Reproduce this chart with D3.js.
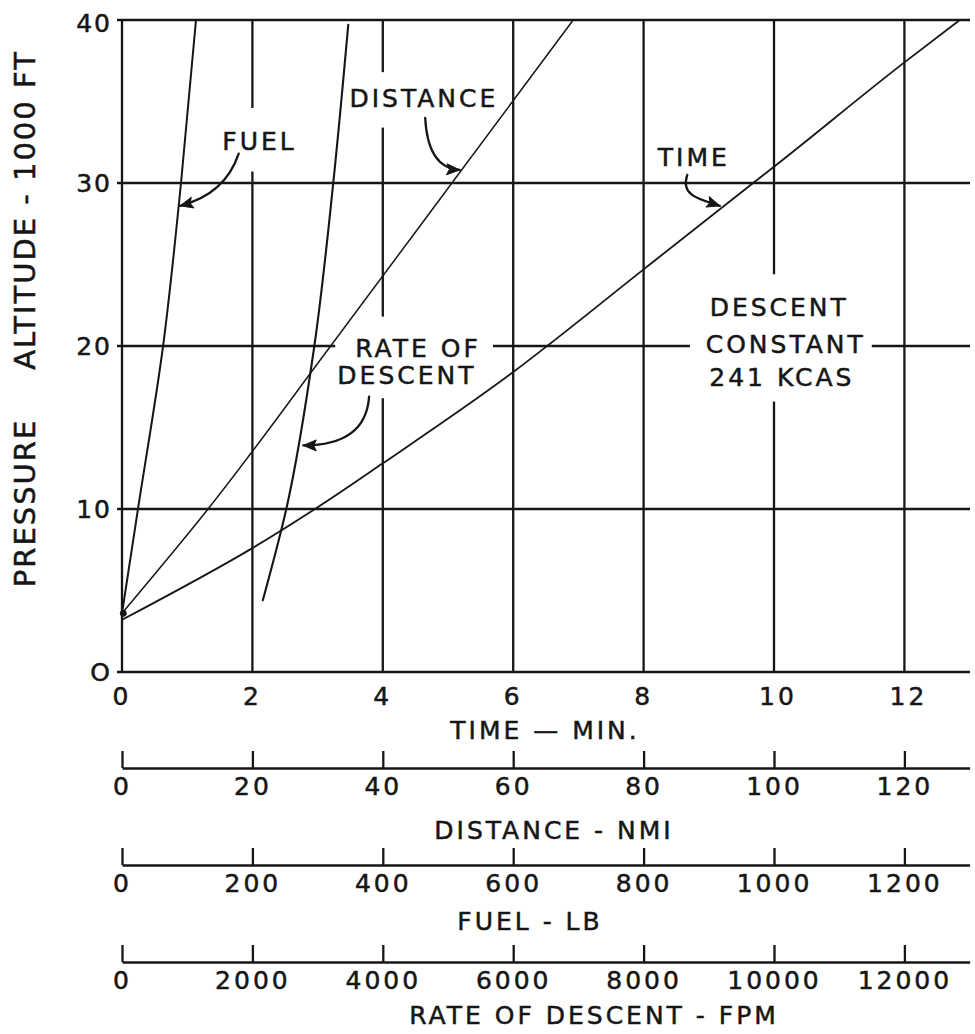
<!DOCTYPE html>
<html>
<head>
<meta charset="utf-8">
<script src="https://cdn.jsdelivr.net/npm/d3@7"></script>
<style>
  html, body { margin: 0; padding: 0; background: #fff; }
  svg { display: block; }
  text { font-family: "DejaVu Sans", sans-serif; fill: #161616; stroke: #161616; stroke-width: 0.5px; }
</style>
</head>
<body>
<svg id="chart" width="975" height="1034"></svg>
<script>
// ---- Descent performance data (altitude in 1000 ft vs. scale reading) ----
const timeAlt = [3.2, 7.6, 10, 12.8, 18.4, 20, 24.7, 30, 31.0, 37.4, 40];
const timeMin = [0, 2, 2.96, 4, 6, 6.52, 8, 9.68, 10, 12, 12.85];

const distAlt = [3.6, 10, 20, 30, 40];
const distNmi = [0, 13.2, 32, 50.6, 69.2];

const fuelAlt = [3.6, 10, 20, 30, 40];
const fuelLb  = [0, 24.5, 63, 90.5, 113.5];

const rateAlt = [4.4, 10, 20, 30, 39.7];
const rateFpm = [2160, 2520, 2950, 3240, 3470];

// ---- Axis ticks ----
const altTicks  = [0, 10, 20, 30, 40];
const timeTicks = [0, 2, 4, 6, 8, 10, 12];
const distTicks = [0, 20, 40, 60, 80, 100, 120];
const fuelTicks = [0, 200, 400, 600, 800, 1000, 1200];
const rateTicks = [0, 2000, 4000, 6000, 8000, 10000, 12000];

// Gaps left in grid lines where the lettering sits
const vGridGaps = [
  { t: 2,  from: 30.7, to: 34.6 },
  { t: 4,  from: 33.4, to: 36.8 },
  { t: 4,  from: 16.8, to: 21.8 },
  { t: 10, from: 16.6, to: 24.4 }
];
const hGridGaps = [
  { alt: 20, from: 3.27, to: 5.69 },
  { alt: 20, from: 8.71, to: 11.5 }
];

// Curve callouts: one [time units, altitude] anchor per text line
const callouts = [
  { lines: ["FUEL"],                            at: [[2.11, 32.6]] },
  { lines: ["DISTANCE"],                        at: [[4.63, 35.2]] },
  { lines: ["TIME"],                            at: [[8.77, 31.6]] },
  { lines: ["RATE OF", "DESCENT"],              at: [[4.54, 19.9], [4.37, 18.2]] },
  { lines: ["DESCENT", "CONSTANT", "241 KCAS"], at: [[10.08, 22.4], [10.18, 20.1], [10.12, 18.1]] }
];
const arrows = [
  // start, control(s), tip
  { pts: [[1.79, 31.8], [1.58, 29.3], [0.89, 28.6]] },
  { pts: [[4.65, 34.0], [4.69, 30.9], [5.18, 30.8]] },
  { pts: [[8.67, 30.5], [8.56, 29.2], [8.86, 29.0], [9.17, 28.6]] },
  { pts: [[3.79, 16.9], [3.74, 13.9], [2.78, 13.9]] }
];

// ---- Layout ----
const svg = d3.select("#chart");
const x = d3.scaleLinear().domain([0, 13]).range([122, 969.6]);
const y = d3.scaleLinear().domain([0, 40]).range([672, 20]);
const ink = "#161616";
const gridW = 2.3;

const grid = svg.append("g").attr("stroke", ink).attr("stroke-width", gridW).attr("fill", "none");

// Horizontal grid lines, split around any gaps
altTicks.forEach(a => {
  const gaps = hGridGaps.filter(g => g.alt === a).sort((p, q) => p.from - q.from);
  let start = x.invert(x(0) - 5);
  const segs = [];
  gaps.forEach(g => { segs.push([start, g.from]); start = g.to; });
  segs.push([start, x.invert(970)]);
  segs.forEach(s => grid.append("line")
    .attr("x1", x(s[0])).attr("x2", x(s[1]))
    .attr("y1", y(a)).attr("y2", y(a)));
});

// Vertical grid lines
timeTicks.forEach(t => {
  const gaps = vGridGaps.filter(g => g.t === t).sort((p, q) => p.from - q.from);
  let start = 0;
  const segs = [];
  gaps.forEach(g => { segs.push([start, g.from]); start = g.to; });
  segs.push([start, 40]);
  segs.forEach(s => grid.append("line")
    .attr("x1", x(t)).attr("x2", x(t))
    .attr("y1", y(s[0])).attr("y2", y(s[1])));
});

// Altitude tick labels
svg.append("g").selectAll("text").data(altTicks).join("text")
  .attr("x", 112).attr("y", d => y(d) + (d === 40 ? 3 : 0))
  .attr("dy", "0.36em")
  .attr("text-anchor", "end")
  .attr("font-size", 25)
  .attr("letter-spacing", 2)
  .text(d => d === 0 ? "O" : d);

// Time tick labels
svg.append("g").selectAll("text").data(timeTicks).join("text")
  .attr("x", d => x(d) + (d >= 10 ? 4 : 0)).attr("y", 696)
  .attr("dy", "0.36em")
  .attr("text-anchor", "middle")
  .attr("font-size", 25)
  .attr("letter-spacing", 3)
  .text(d => d);

// Axis titles
svg.append("text").attr("x", 545).attr("y", 730).attr("dy", "0.36em")
  .attr("text-anchor", "middle").attr("font-size", 25).attr("letter-spacing", 3)
  .text("TIME — MIN.");

svg.append("text").attr("transform", "translate(25,503) rotate(-90)")
  .attr("dy", "0.36em").attr("text-anchor", "middle")
  .attr("font-size", 29).attr("letter-spacing", 2)
  .text("PRESSURE");
svg.append("text").attr("transform", "translate(25,210) rotate(-90)")
  .attr("dy", "0.36em").attr("text-anchor", "middle")
  .attr("font-size", 29).attr("letter-spacing", 2)
  .text("ALTITUDE - 1000 FT");

// Secondary bottom scales (distance, fuel, rate of descent)
const extra = [
  { ticks: distTicks, max: 130,   lineY: 768, title: "DISTANCE - NMI",        titleX: 554, titleY: 830 },
  { ticks: fuelTicks, max: 1300,  lineY: 865, title: "FUEL - LB",             titleX: 530, titleY: 921 },
  { ticks: rateTicks, max: 13000, lineY: 962, title: "RATE OF DESCENT - FPM", titleX: 594, titleY: 1015 }
];
extra.forEach(e => {
  const s = d3.scaleLinear().domain([0, e.max]).range(x.range());
  const g = svg.append("g").attr("transform", `translate(0,${e.lineY})`)
    .call(d3.axisBottom(s).tickValues(e.ticks).tickSizeInner(-17).tickSizeOuter(0).tickPadding(9)
      .tickFormat(d => d));
  g.attr("font-family", null).attr("font-size", null);
  g.select(".domain").attr("stroke", ink).attr("stroke-width", gridW);
  g.selectAll(".tick line").attr("stroke", ink).attr("stroke-width", gridW);
  g.selectAll(".tick text").attr("font-size", 25).attr("letter-spacing", 3).attr("fill", ink);
  svg.append("text").attr("x", e.titleX).attr("y", e.titleY).attr("dy", "0.36em")
    .attr("text-anchor", "middle").attr("font-size", 25).attr("letter-spacing", 3)
    .text(e.title);
});

// ---- Curves ----
const series = [
  { alt: timeAlt, v: timeMin,                   w: 1.8 },
  { alt: distAlt, v: distNmi.map(d => d / 10),   w: 1.5 },
  { alt: fuelAlt, v: fuelLb.map(d => d / 100),   w: 2.0 },
  { alt: rateAlt, v: rateFpm.map(d => d / 1000), w: 2.1 }
];
const line = d3.line().x(d => x(d[0])).y(d => y(d[1])).curve(d3.curveMonotoneY);
series.forEach(s => {
  svg.append("path")
    .datum(s.v.map((v, i) => [v, s.alt[i]]))
    .attr("fill", "none").attr("stroke", ink).attr("stroke-width", s.w)
    .attr("stroke-linecap", "round")
    .attr("d", line);
});
// Common starting point of the curves
svg.append("circle").attr("cx", x(0.02)).attr("cy", y(3.6)).attr("r", 3.4).attr("fill", ink);

// ---- Callouts ----
callouts.forEach(c => {
  c.lines.forEach((t, i) => {
    svg.append("text")
      .attr("x", x(c.at[i][0]))
      .attr("y", y(c.at[i][1]))
      .attr("dy", "0.36em").attr("text-anchor", "middle")
      .attr("font-size", 25).attr("letter-spacing", 3)
      .text(t);
  });
});

arrows.forEach(a => {
  const p = a.pts.map(d => [x(d[0]), y(d[1])]);
  const path = d3.path();
  path.moveTo(p[0][0], p[0][1]);
  if (p.length === 3) path.quadraticCurveTo(p[1][0], p[1][1], p[2][0], p[2][1]);
  else path.bezierCurveTo(p[1][0], p[1][1], p[2][0], p[2][1], p[3][0], p[3][1]);
  svg.append("path").attr("d", path.toString())
    .attr("fill", "none").attr("stroke", ink).attr("stroke-width", 2.3).attr("stroke-linecap", "round");
  // arrowhead aligned with the final tangent
  const tip = p[p.length - 1], prev = p[p.length - 2];
  const ang = Math.atan2(tip[1] - prev[1], tip[0] - prev[0]);
  const L = 13, W = 5.5;
  const ca = Math.cos(ang), sa = Math.sin(ang);
  const bx = tip[0] - L * ca, by = tip[1] - L * sa;
  const nx = -sa * W, ny = ca * W;
  svg.append("path")
    .attr("d", `M${tip[0]},${tip[1]}L${bx + nx},${by + ny}L${bx + 0.2 * L * ca},${by + 0.2 * L * sa}L${bx - nx},${by - ny}Z`)
    .attr("fill", ink).attr("stroke", ink).attr("stroke-width", 1).attr("stroke-linejoin", "round");
});
</script>
</body>
</html>
